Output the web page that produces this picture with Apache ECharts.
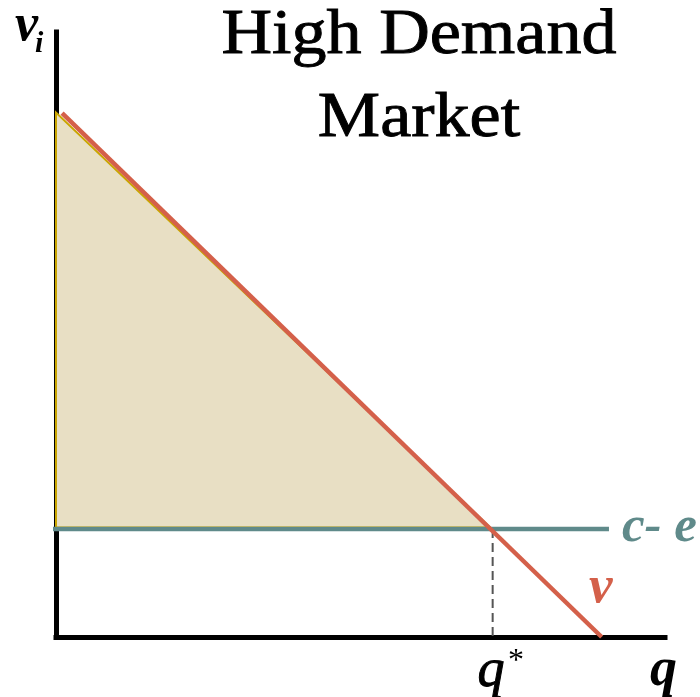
<!DOCTYPE html>
<html><head><meta charset="utf-8">
<script src="https://cdn.jsdelivr.net/npm/echarts@6/dist/echarts.min.js"></script>
<style>html,body{margin:0;padding:0;background:#fff}#c{width:700px;height:697px}</style>
</head><body><div id="c"></div>
<script>
// Axis ranges (quantity q, valuation v_i)
const qRange = [0, 10];
const vRange = [0, 10];
// Demand curve v (endpoints)
const demandQ = [0.10, 8.96];
const demandV = [8.66, 0];
// Cost line c - e
const ceLevel = 1.785;
const ceQ = [-0.11, 9.08];
// Equilibrium quantity
const qStar = 7.17;
// Surplus triangle vertices
const surplusQ = [0, 0, 7.13];
const surplusV = [8.67, 1.81, 1.81];
// Text
const titleText = 'High Demand\nMarket';

const RED = '#d4604a', TEAL = '#5f8a8a', FILL = '#e8dfc4', EDGE = '#c9a500';
const SERIF = '"Liberation Serif", "DejaVu Serif", serif';

const chart = echarts.init(document.getElementById('c'), null, {renderer: 'canvas'});
const hidden = {show: false};
const axisBase = {
  type: 'value',
  axisLine: {show: true, lineStyle: {color: '#000', width: 5, cap: 'square'}},
  axisTick: hidden, axisLabel: hidden, splitLine: hidden
};
chart.setOption({
  animation: false,
  grid: {left: 56, right: 35, top: 32, bottom: 60},
  xAxis: Object.assign({}, axisBase, {min: qRange[0], max: qRange[1]}),
  yAxis: Object.assign({}, axisBase, {min: vRange[0], max: vRange[1]}),
  series: [
    {
      type: 'custom', clip: false, z: 1,
      data: [0],
      renderItem: function (params, api) {
        const pts = surplusQ.map((q, i) => api.coord([q, surplusV[i]]));
        return {type: 'polygon', shape: {points: pts},
          style: {fill: FILL, stroke: EDGE, lineWidth: 2}};
      }
    },
    {
      type: 'line', clip: false, z: 3, symbol: 'none',
      data: ceQ.map(q => [q, ceLevel]),
      lineStyle: {color: TEAL, width: 4.5},
      endLabel: {show: true, formatter: 'c- e', distance: 13, offset: [0, -1],
        fontFamily: SERIF, fontStyle: 'italic', fontWeight: 'bold', fontSize: 51, color: TEAL}
    },
    {
      type: 'line', clip: false, z: 2, symbol: 'none',
      data: [[qStar, ceLevel], [qStar, 0]],
      lineStyle: {color: '#555', width: 2, type: [9, 5]}
    },
    {
      type: 'line', clip: false, z: 4, symbol: 'none',
      data: demandQ.map((q, i) => [q, demandV[i]]),
      lineStyle: {color: RED, width: 4.5}
    }
  ],
  graphic: [
    {type: 'text', x: 419, y: -5, scaleX: 1.095,
      style: {text: titleText, font: 'normal 64px ' + SERIF, lineHeight: 83, align: 'center', verticalAlign: 'top',
        fill: '#000', stroke: '#000', lineWidth: 0.9}},
    {type: 'text', left: 15, top: 1, style: {text: 'v', font: 'italic bold 52px ' + SERIF, fill: '#000'}},
    {type: 'text', left: 35, top: 29, style: {text: 'i', font: 'italic bold 30px ' + SERIF, fill: '#000'}},
    {type: 'text', left: 589, top: 562, style: {text: 'v', font: 'italic bold 53px ' + SERIF, fill: RED}},
    {type: 'text', left: 477, top: 644, style: {text: 'q', font: 'italic 54px ' + SERIF, fill: '#000', stroke: '#000', lineWidth: 1}},
    {type: 'text', left: 508, top: 646, style: {text: '*', font: 'normal 32px ' + SERIF, fill: '#000'}},
    {type: 'text', left: 650, top: 644, style: {text: 'q', font: 'italic bold 54px ' + SERIF, fill: '#000'}}
  ]
});
</script></body></html>
